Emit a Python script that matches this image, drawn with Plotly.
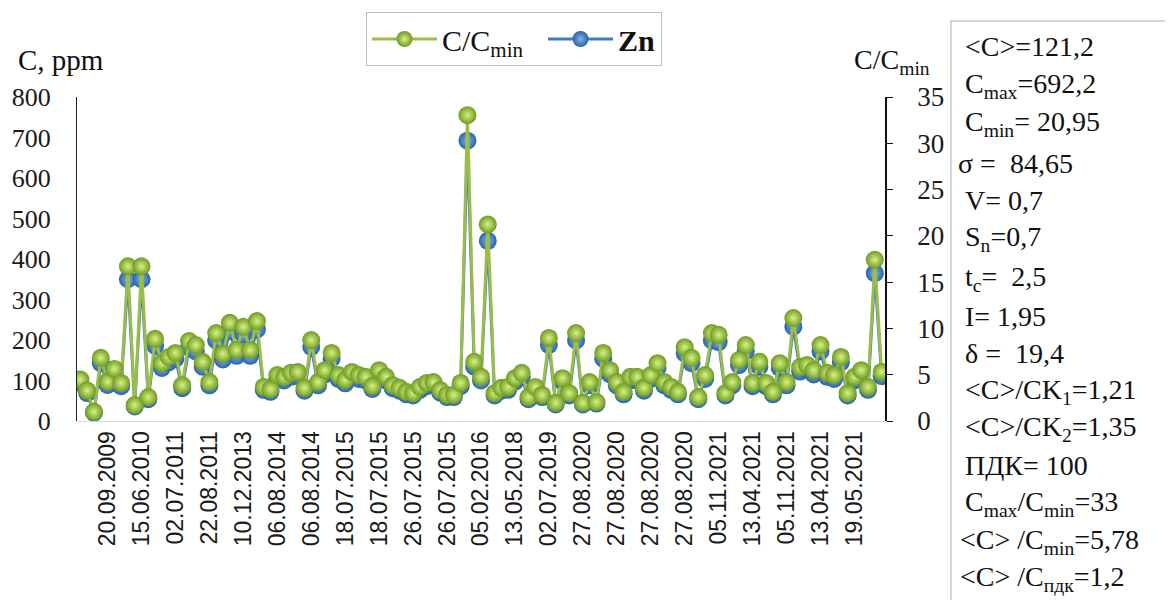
import plotly.graph_objects as go

# ---------------- data ----------------
C_MIN = 20.95
zn = [94, 69, 20.95, 143, 89, 118, 86, 350, 36, 350,
      54, 186, 131, 145, 154, 81, 181, 172, 134, 88,
      199, 152, 222, 161, 213, 161, 226, 77, 72, 104,
      100, 109, 111, 75, 183, 88, 115, 154, 104, 93,
      111, 104, 100, 79, 115, 100, 81, 75, 66, 63,
      77, 86, 88, 70, 59, 59, 86, 692.2, 134, 100,
      445, 63, 75, 77, 97, 109, 54, 77, 59, 188,
      41, 97, 63, 199, 41, 88, 43, 154, 115, 88,
      66, 100, 100, 75, 104, 131, 88, 77, 66, 167,
      143, 54, 104, 199, 195, 63, 88, 138, 172, 86,
      134, 86, 66, 131, 88, 233, 122, 127, 115, 172,
      109, 104, 145, 63, 100, 115, 77, 365, 111]
c_ratio = [round(v / C_MIN, 2) for v in zn]   # C/Cmin by definition

date_labels = ["20.09.2009", "15.06.2010", "02.07.2011", "22.08.2011", "10.12.2013",
               "06.08.2014", "06.08.2014", "18.07.2015", "18.07.2015", "26.07.2015",
               "26.07.2015", "05.02.2016", "13.05.2018", "02.07.2019", "27.08.2020",
               "27.08.2020", "27.08.2020", "27.08.2020", "05.11.2021", "13.04.2021",
               "05.11.2021", "13.04.2021", "19.05.2021"]
LABEL_START, LABEL_STEP = 4, 5

left_ticks = [0, 100, 200, 300, 400, 500, 600, 700, 800]
right_ticks = [0, 5, 10, 15, 20, 25, 30, 35]

stats_lines = ["&lt;C&gt;=121,2",
               "C<sub>max</sub>=692,2",
               "C<sub>min</sub>= 20,95",
               "σ =  84,65",
               "V= 0,7",
               "S<sub>n</sub>=0,7",
               "t<sub>c</sub>=  2,5",
               "I= 1,95",
               "δ =  19,4",
               "&lt;C&gt;/CK<sub>1</sub>=1,21",
               "&lt;C&gt;/CK<sub>2</sub>=1,35",
               "ПДК= 100",
               "C<sub>max</sub>/C<sub>min</sub>=33",
               "&lt;C&gt; /C<sub>min</sub>=5,78",
               "&lt;C&gt; /C<sub>пдк</sub>=1,2"]

# ---------------- figure ----------------
OFF = 8                       # page body margin of the html
W, H = 1173 - OFF, 600 - OFF
L, T = 77 - OFF, 97 - OFF
R = W - (885 - OFF)
B = H - (421 - OFF)
PW, PH = W - L - R, H - T - B
def px(x):                    # reference-window pixel -> paper
    return (x - OFF - L) / PW
def py(y):
    return (H - B - (y - OFF)) / PH

SERIF = "Liberation Serif"
SANS = "Liberation Sans"
x = list(range(len(zn)))

fig = go.Figure()
fig.add_trace(go.Scatter(
    x=x, y=zn, name="<b>Zn</b>", mode="lines+markers", yaxis="y",
    line=dict(color="#3c7cc4", width=3),
    marker=dict(size=18, color="#2a64a8", line=dict(width=0),
                gradient=dict(type="radial", color="#7fb3e8")),
))
fig.add_trace(go.Scatter(
    x=x, y=c_ratio, name="C/C<sub>min</sub>  ", mode="lines+markers", yaxis="y2",
    line=dict(color="#9dbd4a", width=3),
    marker=dict(size=18, color="#6f9a22", line=dict(width=0),
                gradient=dict(type="radial", color="#d6f283")),
))

tickvals = [LABEL_START + LABEL_STEP * i for i in range(len(date_labels))]

fig.update_layout(
    width=W, height=H,
    margin=dict(l=L, r=R, t=T, b=B, autoexpand=False),
    paper_bgcolor="white", plot_bgcolor="white",
    showlegend=True,
    legend=dict(orientation="h", traceorder="reversed",
                x=px(366), y=py(12), xanchor="left", yanchor="top",
                bordercolor="#bfbfbf", borderwidth=1,
                font=dict(family=SERIF, size=30, color="#111111"),
                itemwidth=65),
    xaxis=dict(range=[-0.5, len(zn) - 0.5], tickmode="array",
               tickvals=tickvals, ticktext=date_labels, tickangle=-90,
               showgrid=False, zeroline=False, showline=True,
               linecolor="#d9d9d9", linewidth=1, ticks="",
               tickfont=dict(family=SANS, size=23, color="#1a1a1a")),
    yaxis=dict(range=[0, 800], tickmode="array", tickvals=left_ticks,
               showgrid=False, zeroline=False, showline=True,
               linecolor="#222222", linewidth=1, ticks="",
               ticklabelstandoff=20,
               tickfont=dict(family=SERIF, size=26, color="#1a1a1a")),
    yaxis2=dict(range=[0, 35], tickmode="array", tickvals=right_ticks,
                overlaying="y", side="right",
                showgrid=False, zeroline=False, showline=True,
                linecolor="#111111", linewidth=1.5, ticks="outside",
                ticklen=6, tickcolor="#111111", ticklabelstandoff=19,
                tickfont=dict(family=SERIF, size=27, color="#1a1a1a")),
)

annotations = [
    dict(text="C, ppm", x=px(16), y=py(60), xanchor="left", yanchor="middle",
         font=dict(family=SERIF, size=29, color="#111111")),
    dict(text="C/C<sub>min</sub>", x=px(852), y=py(62), xanchor="left", yanchor="middle",
         font=dict(family=SERIF, size=28, color="#111111")),
]
line_y = [47, 85, 123, 163, 200, 238, 278, 316, 353, 391, 428, 465, 503, 541, 578]
line_x = [963, 963, 963, 956, 963, 963, 963, 963, 963, 963, 963, 963, 963, 958, 958]
for txt, yy, xx in zip(stats_lines, line_y, line_x):
    annotations.append(dict(text=txt, x=px(xx), y=py(yy), xanchor="left",
                            yanchor="middle", showarrow=False,
                            font=dict(family=SERIF, size=28, color="#111111")))
for a in annotations:
    a.update(xref="paper", yref="paper", showarrow=False)
fig.update_layout(annotations=annotations)

fig.add_shape(type="rect", xref="paper", yref="paper",
              x0=px(951), x1=px(1185), y0=py(620), y1=py(21),
              line=dict(color="#c8c8c8", width=1.5), fillcolor="rgba(0,0,0,0)",
              layer="below")

fig.write_html("out.html")
